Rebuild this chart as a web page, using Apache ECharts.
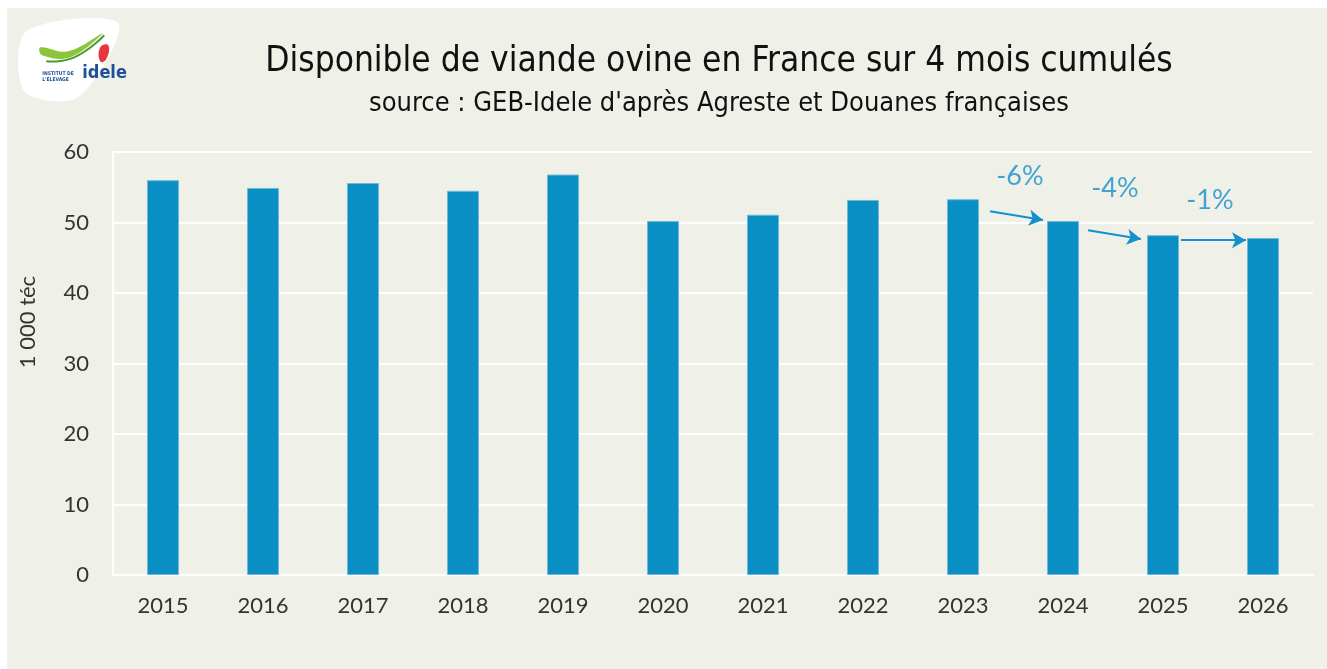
<!DOCTYPE html>
<html>
<head>
<meta charset="utf-8">
<title>Disponible viande ovine</title>
<style>
  body { margin: 0; background: #fff; }
  #chart { position: absolute; left: 7px; top: 8px; width: 1320px; height: 661px; }
</style>
</head>
<body>
<div id="chart"></div>
<script src="https://cdn.jsdelivr.net/npm/echarts@6/dist/echarts.min.js"></script>
<script>
// donnees
var years = ['2015', '2016', '2017', '2018', '2019', '2020', '2021', '2022', '2023', '2024', '2025', '2026'];
var volumes = [56.0, 54.9, 55.6, 54.5, 56.8, 50.2, 51.1, 53.2, 53.3, 50.2, 48.2, 47.8];

// variations annoncees (position sur l'axe des categories, valeur y)
var changeText = ['-6%', '-4%', '-1%'];
var changePos = [[8.57, 56.6], [9.52, 54.9], [10.47, 53.2]];
// fleches : depart / arrivee
var arrowFrom = [[8.27, 51.6], [9.25, 48.9], [10.18, 47.5]];
var arrowTo = [[8.80, 50.35], [9.78, 47.65], [10.83, 47.5]];

var blue = '#0a8fc5';
var noteBlue = '#1590cc';
var titleFont = "'DejaVu Sans Condensed', Roboto, sans-serif";
var chart = echarts.init(document.getElementById('chart'));

var arrows = arrowFrom.map(function (p, i) {
    return [{ coord: p }, { coord: arrowTo[i] }];
});
var labels = changeText.map(function (t, i) {
    return { value: changePos[i], name: t };
});

var option = {
    backgroundColor: '#eff0e8',
    animation: false,
    title: [{
        text: 'Disponible de viande ovine en France sur 4 mois cumulés',
        left: 707, top: 31, textAlign: 'center',
        textStyle: { fontFamily: titleFont, fontSize: 35, fontWeight: 'normal', color: '#111' }
    }, {
        text: "source : GEB-Idele d'après Agreste et Douanes françaises",
        left: 707, top: 77, textAlign: 'center',
        textStyle: { fontFamily: titleFont, fontSize: 27, fontWeight: 'normal', color: '#111' }
    }],
    grid: { left: 106, right: 14, top: 144, bottom: 94 },
    xAxis: [{
        type: 'category',
        data: years,
        axisLine: { lineStyle: { color: '#fff', width: 2 } },
        axisTick: { show: false },
        axisLabel: { color: '#333', fontSize: 22, fontFamily: 'Lato', margin: 20 }
    }, {
        type: 'value', min: -0.5, max: 11.5, show: false
    }],
    yAxis: {
        type: 'value', min: 0, max: 60, interval: 10,
        axisLine: { show: true, onZero: false, lineStyle: { color: '#fff', width: 2 } },
        axisTick: { show: false },
        axisLabel: { color: '#333', fontSize: 22, fontFamily: 'Lato', margin: 24 },
        splitLine: { lineStyle: { color: '#fff', width: 2 } }
    },
    series: [{
        type: 'bar',
        data: volumes,
        barWidth: 32,
        itemStyle: { color: blue, borderColor: '#6fb8d8', borderWidth: 1 }
    }, {
        type: 'scatter',
        xAxisIndex: 1,
        data: labels,
        symbolSize: 1,
        itemStyle: { color: 'transparent' },
        label: {
            show: true, position: 'inside', formatter: '{b}',
            color: noteBlue, fontSize: 27, fontFamily: 'Lato'
        },
        markLine: {
            silent: true,
            symbol: ['none', 'arrow'],
            symbolSize: [12, 14],
            label: { show: false },
            lineStyle: { color: noteBlue, width: 2, type: 'solid' },
            data: arrows
        }
    }],
    graphic: [{
        type: 'text', x: 21, y: 314, rotation: Math.PI / 2,
        style: { text: '1 000 téc', fontSize: 22, fontFamily: 'Lato', fill: '#333', align: 'center', verticalAlign: 'middle' }
    }, {
        type: 'group', left: 11, top: 10,
        children: [{
            type: 'polygon',
            shape: { points: [[10, 14], [102, 6], [62, 80], [8, 74]], smooth: 0.3 },
            style: { fill: '#fff' }
        }, {
            type: 'polygon',
            shape: { points: [[24, 30], [52, 34], [86, 16], [54, 40], [26, 38]], smooth: 0.4 },
            style: { fill: '#8cc43c' }
        }, {
            type: 'polyline',
            shape: { points: [[30, 44], [58, 40], [88, 18]], smooth: 0.5 },
            style: { stroke: '#4a9a2e', lineWidth: 2, fill: null }
        }, {
            type: 'polygon',
            shape: { points: [[84, 30], [92, 28], [90, 42], [84, 44]], smooth: 0.5 },
            style: { fill: '#e8363c' }
        }, {
            type: 'text', left: 26, top: 53,
            style: { text: 'INSTITUT DE\nL\'ÉLEVAGE', fontSize: 5, fontWeight: 'bold', fill: '#1d4f9a', fontFamily: titleFont, lineHeight: 6 }
        }, {
            type: 'text', left: 66, top: 47,
            style: { text: 'idele', fontSize: 18, fontWeight: 'bold', fill: '#1d4f9a', fontFamily: titleFont }
        }]
    }]
};
chart.setOption(option);
</script>
</body>
</html>
